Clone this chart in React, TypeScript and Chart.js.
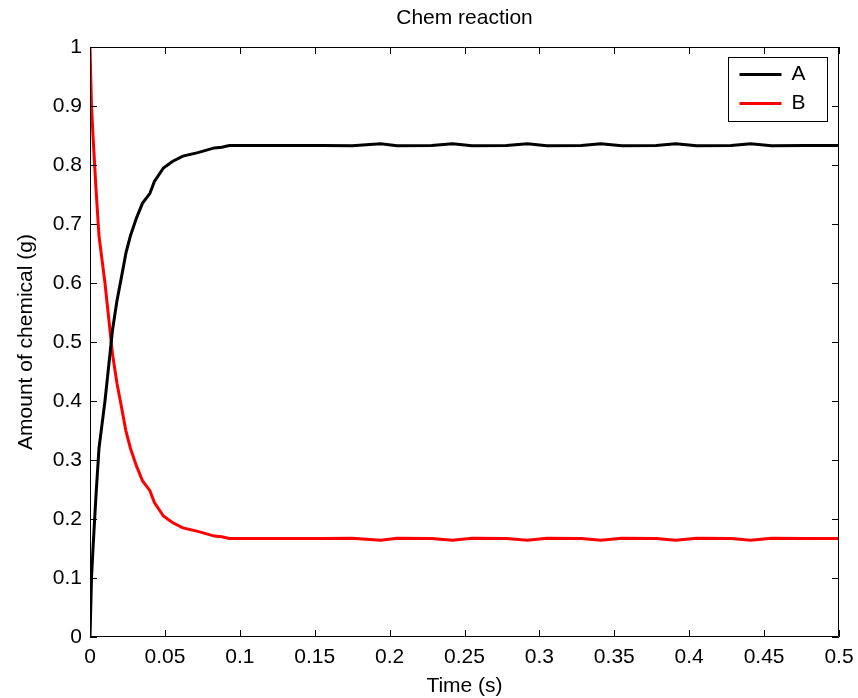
import React, { useEffect, useRef } from "react";
import { Chart, registerables } from "chart.js";

Chart.register(...registerables);

const chartTitle = "Chem reaction";
const xAxisTitle = "Time (s)";
const yAxisTitle = "Amount of chemical (g)";

const times = [
  0, 0.001, 0.002, 0.004, 0.006, 0.008, 0.010, 0.0125, 0.015, 0.018, 0.021, 0.024,
  0.027, 0.031, 0.035, 0.040, 0.043, 0.049, 0.055, 0.062, 0.072, 0.083, 0.088, 0.093,
  0.11, 0.13, 0.155, 0.175, 0.194, 0.205, 0.228, 0.242, 0.255, 0.278, 0.292, 0.305,
  0.328, 0.341, 0.355, 0.378, 0.391, 0.405, 0.428, 0.441, 0.455, 0.478, 0.5,
];

const chemA = [
  0, 0.10, 0.15, 0.24, 0.32, 0.36, 0.40, 0.46, 0.52, 0.57, 0.61, 0.651,
  0.68, 0.71, 0.735, 0.752, 0.772, 0.795, 0.806, 0.815, 0.821, 0.829, 0.830, 0.833,
  0.833, 0.833, 0.833, 0.8325, 0.836, 0.8325, 0.833, 0.836, 0.8325, 0.833, 0.836, 0.8325,
  0.833, 0.836, 0.8325, 0.833, 0.836, 0.8325, 0.833, 0.836, 0.8325, 0.833, 0.833,
];

const chemB = [
  1, 0.90, 0.85, 0.76, 0.68, 0.64, 0.60, 0.54, 0.48, 0.43, 0.39, 0.349,
  0.32, 0.29, 0.265, 0.248, 0.228, 0.205, 0.194, 0.185, 0.179, 0.171, 0.170, 0.167,
  0.167, 0.167, 0.167, 0.1675, 0.164, 0.1675, 0.167, 0.164, 0.1675, 0.167, 0.164, 0.1675,
  0.167, 0.164, 0.1675, 0.167, 0.164, 0.1675, 0.167, 0.164, 0.1675, 0.167, 0.167,
];

const seriesLabels = ["A", "B"];
const seriesColors = ["#000000", "#ff0000"];

const xTickLabels = ["0", "0.05", "0.1", "0.15", "0.2", "0.25", "0.3", "0.35", "0.4", "0.45", "0.5"];
const yTickLabels = ["0", "0.1", "0.2", "0.3", "0.4", "0.5", "0.6", "0.7", "0.8", "0.9", "1"];

const FONT = "'Liberation Sans', Arial, Helvetica, sans-serif";

const framePlugin = {
  id: "matlabFrame",
  afterDraw(chart: any) {
    const { ctx, chartArea, scales } = chart;
    const { left, right, top, bottom } = chartArea;
    const xs = scales.x;
    const ys = scales.y;
    ctx.save();
    ctx.strokeStyle = "#000";
    ctx.lineWidth = 1;
    ctx.beginPath();
    ctx.rect(Math.round(left) + 0.5, Math.round(top) + 0.5, Math.round(right - left) - 1, Math.round(bottom - top) - 1);
    ctx.stroke();
    const tl = 7;
    ctx.beginPath();
    xs.ticks.forEach((t: any) => {
      const px = Math.round(xs.getPixelForValue(t.value)) + 0.5;
      ctx.moveTo(px, bottom);
      ctx.lineTo(px, bottom - tl);
      ctx.moveTo(px, top);
      ctx.lineTo(px, top + tl);
    });
    ys.ticks.forEach((t: any) => {
      const py = Math.round(ys.getPixelForValue(t.value)) + 0.5;
      ctx.moveTo(left, py);
      ctx.lineTo(left + tl, py);
      ctx.moveTo(right, py);
      ctx.lineTo(right - tl, py);
    });
    ctx.stroke();

    // titles
    ctx.fillStyle = "#000";
    ctx.textAlign = "center";
    ctx.textBaseline = "middle";
    ctx.font = `21px ${FONT}`;
    const cx = (left + right) / 2;
    ctx.fillText(chartTitle, cx, 18);
    ctx.fillText(xAxisTitle, cx, 686);
    ctx.save();
    ctx.translate(26, (top + bottom) / 2);
    ctx.rotate(-Math.PI / 2);
    ctx.fillText(yAxisTitle, 0, 0);
    ctx.restore();

    // legend
    const lx = 728.5, ly = 57.5, lw = 99, lh = 64;
    ctx.fillStyle = "#fff";
    ctx.fillRect(lx, ly, lw, lh);
    ctx.strokeStyle = "#000";
    ctx.lineWidth = 1;
    ctx.strokeRect(lx, ly, lw, lh);
    chart.data.datasets.forEach((ds: any, i: number) => {
      const yy = ly + 17 + i * 29;
      ctx.strokeStyle = ds.borderColor;
      ctx.lineWidth = 3;
      ctx.beginPath();
      ctx.moveTo(lx + 11, yy);
      ctx.lineTo(lx + 53, yy);
      ctx.stroke();
      ctx.fillStyle = "#000";
      ctx.textAlign = "left";
      ctx.font = `21px ${FONT}`;
      ctx.fillText(ds.label, lx + 63, yy);
    });
    ctx.restore();
  },
};

export default function App() {
  const canvasRef = useRef<HTMLCanvasElement | null>(null);

  useEffect(() => {
    if (!canvasRef.current) return;
    const datasets = [chemA, chemB].map((vals, i) => ({
      label: seriesLabels[i],
      data: times.map((t, j) => ({ x: t, y: vals[j] })),
      borderColor: seriesColors[i],
      backgroundColor: seriesColors[i],
      borderWidth: 3,
      pointRadius: 0,
      tension: 0,
      fill: false,
    }));
    const chart = new Chart(canvasRef.current, {
      type: "line",
      data: { datasets },
      options: {
        animation: false,
        responsive: false,
        maintainAspectRatio: false,
        devicePixelRatio: 1,
        layout: { padding: { left: 0, top: 47, right: 19, bottom: 0 } },
        plugins: {
          legend: { display: false },
          title: { display: false },
          tooltip: { enabled: false },
        },
        scales: {
          x: {
            type: "linear",
            min: 0,
            max: 0.5,
            border: { display: false },
            grid: { display: false, drawTicks: false },
            ticks: {
              stepSize: 0.05,
              autoSkip: false,
              maxRotation: 0,
              padding: 8,
              color: "#000",
              font: { family: FONT, size: 21 },
              callback: (_v: any, i: number) => xTickLabels[i],
            },
            afterFit: (s: any) => {
              s.height = 61;
              s.paddingLeft = 0;
              s.paddingRight = 0;
            },
          },
          y: {
            type: "linear",
            min: 0,
            max: 1,
            border: { display: false },
            grid: { display: false, drawTicks: false },
            ticks: {
              stepSize: 0.1,
              autoSkip: false,
              padding: 8,
              color: "#000",
              font: { family: FONT, size: 21 },
              callback: (_v: any, i: number) => yTickLabels[i],
            },
            afterFit: (s: any) => {
              s.width = 90;
              s.paddingTop = 0;
              s.paddingBottom = 0;
            },
          },
        },
      },
      plugins: [framePlugin],
    });
    return () => chart.destroy();
  }, []);

  return (
    <div style={{ position: "fixed", left: 0, top: 0, width: 858, height: 698, background: "#fff" }}>
      <canvas ref={canvasRef} width={858} height={698} style={{ width: 858, height: 698, display: "block" }} />
    </div>
  );
}
